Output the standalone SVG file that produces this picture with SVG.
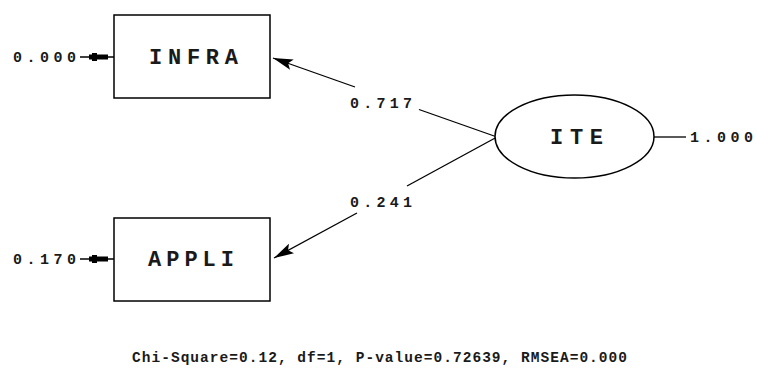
<svg xmlns="http://www.w3.org/2000/svg" width="757" height="368" viewBox="0 0 757 368">
  <style>
    .box { fill: #ffffff; stroke: #000000; stroke-width: 1.5; }
    .edge { fill: none; stroke: #000000; stroke-width: 1.3; }
    .node { font-family: "Liberation Mono", "Courier New", monospace; font-weight: bold; font-size: 22px; fill: #1a1a1a; }
    .val { font-family: "Liberation Mono", "Courier New", monospace; font-weight: bold; font-size: 15px; fill: #1a1a1a; }
    .foot { font-family: "Liberation Mono", "Courier New", monospace; font-weight: bold; font-size: 14.5px; fill: #1a1a1a; }
  </style>
  <defs>
    <marker id="head" viewBox="0 0 20 11" refX="20" refY="5.5" markerWidth="20" markerHeight="11" markerUnits="userSpaceOnUse" orient="auto">
      <path d="M0,0 L20,5.5 L0,11 L4,5.5 Z" fill="#000000"/>
    </marker>
    <g id="errArrow">
      <line x1="0" y1="0" x2="34" y2="0" stroke="#000000" stroke-width="1.3"/>
      <rect x="9" y="-2.5" width="19" height="5" fill="#000000"/>
      <rect x="12" y="-4" width="5" height="8" fill="#000000"/>
    </g>
  </defs>

  <g id="connectors">
    <!-- ITE -> INFRA, split around its coefficient -->
    <line class="edge" x1="497" y1="137" x2="419" y2="109.5"/>
    <line class="edge" x1="355" y1="87" x2="273" y2="58" marker-end="url(#head)"/>
    <!-- ITE -> APPLI, split around its coefficient -->
    <line class="edge" x1="497" y1="137" x2="407" y2="186"/>
    <line class="edge" x1="357" y1="213" x2="274" y2="258" marker-end="url(#head)"/>
    <!-- error terms -->
    <use href="#errArrow" x="80" y="57"/>
    <use href="#errArrow" x="80" y="259"/>
    <!-- latent variance -->
    <line class="edge" x1="654" y1="137" x2="686" y2="137"/>
  </g>

  <g id="INFRA">
    <rect class="box" x="114" y="15" width="156" height="83"/>
    <text class="node" x="149" y="64" textLength="89" lengthAdjust="spacing">INFRA</text>
    <text class="val" x="13" y="62" textLength="63" lengthAdjust="spacing">0.000</text>
  </g>

  <g id="APPLI">
    <rect class="box" x="114" y="218" width="156" height="83"/>
    <text class="node" x="148" y="266" textLength="86" lengthAdjust="spacing">APPLI</text>
    <text class="val" x="13" y="264" textLength="63" lengthAdjust="spacing">0.170</text>
  </g>

  <g id="ITE">
    <ellipse class="box" cx="574.5" cy="136.5" rx="79.5" ry="41.5"/>
    <text class="node" x="550" y="144" textLength="53" lengthAdjust="spacing">ITE</text>
    <text class="val" x="690" y="142" textLength="63" lengthAdjust="spacing">1.000</text>
  </g>

  <g id="coefficients">
    <text class="val" x="350" y="108" textLength="62" lengthAdjust="spacing">0.717</text>
    <text class="val" x="350" y="207" textLength="62" lengthAdjust="spacing">0.241</text>
  </g>

  <text class="foot" x="132" y="362" textLength="495" lengthAdjust="spacing">Chi-Square=0.12, df=1, P-value=0.72639, RMSEA=0.000</text>
</svg>
